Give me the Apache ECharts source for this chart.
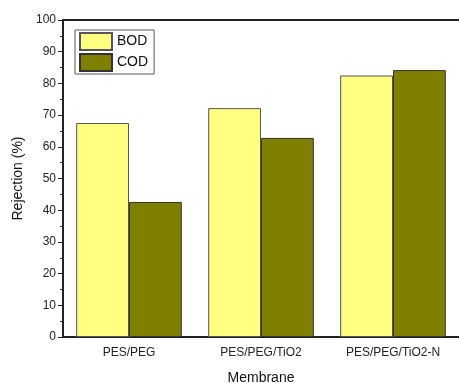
<!DOCTYPE html>
<html>
<head>
<meta charset="utf-8">
<script src="https://cdn.jsdelivr.net/npm/echarts@6/dist/echarts.min.js"></script>
<style>
  html, body { margin: 0; padding: 0; background: #fff; }
  #chart { width: 459px; height: 383px; }
</style>
</head>
<body>
<div id="chart"></div>
<script>
const membranes = ['PES/PEG', 'PES/PEG/TiO2', 'PES/PEG/TiO2-N'];
const bodValues = [67.5, 72.2, 82.5];
const codValues = [42.6, 62.8, 84.2];

const chart = echarts.init(document.getElementById('chart'));
const font = 'Liberation Sans, Arial, sans-serif';
const axisColor = '#222';

const option = {
  animation: false,
  textStyle: { fontFamily: font },
  grid: { left: 63, top: 20, right: 0, bottom: 46, containLabel: false, outerBoundsMode: 'none' },
  legend: {
    orient: 'vertical',
    left: 75,
    top: 30,
    icon: 'rect',
    itemWidth: 32,
    itemHeight: 17,
    itemGap: 2,
    padding: [2, 6, 2, 4],
    borderColor: '#555',
    borderWidth: 1,
    borderRadius: 0,
    textStyle: { fontSize: 14, color: '#111', fontFamily: font },
    data: ['BOD', 'COD']
  },
  xAxis: [
    {
      type: 'category',
      data: membranes,
      name: 'Membrane',
      nameLocation: 'middle',
      nameGap: 34,
      nameTextStyle: { fontSize: 14, color: '#111' },
      axisLine: { lineStyle: { color: axisColor, width: 2 } },
      axisTick: { alignWithLabel: true, length: 6, lineStyle: { color: axisColor } },
      axisLabel: { fontSize: 12, color: '#222', margin: 10 }
    },
    {
      // boundary ticks
      type: 'category',
      data: membranes,
      position: 'bottom',
      axisLine: { show: false },
      axisTick: { length: 4, lineStyle: { color: axisColor } },
      axisLabel: { show: false }
    },
    {
      // top frame
      type: 'category',
      data: membranes,
      position: 'top',
      axisLine: { lineStyle: { color: axisColor, width: 2 } },
      axisTick: { show: false },
      axisLabel: { show: false }
    }
  ],
  yAxis: [
    {
      type: 'value',
      min: 0,
      max: 100,
      interval: 10,
      name: 'Rejection (%)',
      nameLocation: 'middle',
      nameGap: 37,
      nameTextStyle: { fontSize: 14, color: '#111' },
      axisLine: { show: true, lineStyle: { color: axisColor, width: 2 } },
      axisTick: { show: true, length: 5, lineStyle: { color: axisColor } },
      minorTick: { show: true, splitNumber: 2, length: 3, lineStyle: { color: axisColor } },
      axisLabel: { fontSize: 12, color: '#222', margin: 7 },
      splitLine: { show: false }
    },
    {
      // right frame
      type: 'value',
      min: 0,
      max: 100,
      position: 'right',
      axisLine: { show: true, lineStyle: { color: '#bbb', width: 1 } },
      axisTick: { show: false },
      axisLabel: { show: false },
      splitLine: { show: false }
    }
  ],
  series: [
    {
      name: 'BOD',
      type: 'bar',
      data: bodValues,
      barGap: '0%',
      barCategoryGap: '20%',
      itemStyle: { color: '#FFFF80', borderColor: '#555', borderWidth: 1 }
    },
    {
      name: 'COD',
      type: 'bar',
      data: codValues,
      barGap: '0%',
      barCategoryGap: '20%',
      itemStyle: { color: '#808000', borderColor: '#333', borderWidth: 1 }
    }
  ]
};
chart.setOption(option);
</script>
</body>
</html>
